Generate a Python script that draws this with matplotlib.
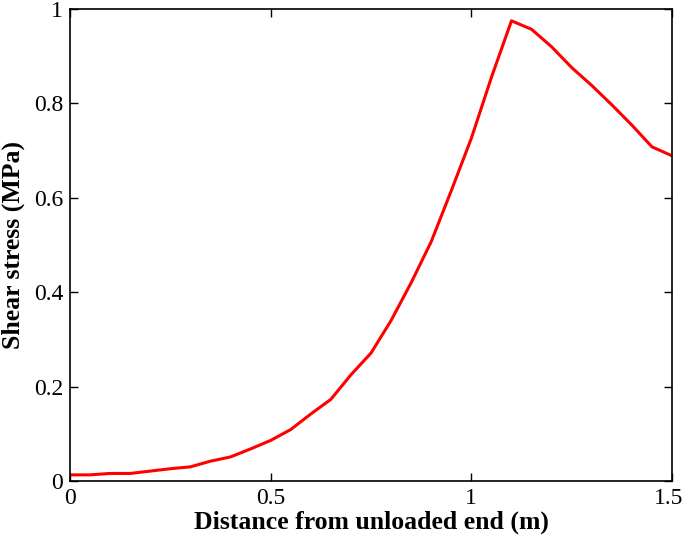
import matplotlib
matplotlib.use("Agg")
import matplotlib.pyplot as plt
import matplotlib.transforms as mtransforms

# distance from unloaded end (m) and shear stress (MPa)
distance = [0.0, 0.05, 0.1, 0.15, 0.2, 0.25, 0.3, 0.35, 0.4, 0.45, 0.5, 0.55,
            0.6, 0.65, 0.7, 0.75, 0.8, 0.85, 0.9, 0.95, 1.0, 1.05, 1.1, 1.15,
            1.2, 1.25, 1.3, 1.35, 1.4, 1.45, 1.5]
shear = [0.013, 0.013, 0.016, 0.016, 0.021, 0.026, 0.030, 0.042, 0.051, 0.068,
         0.086, 0.109, 0.142, 0.173, 0.225, 0.271, 0.340, 0.420, 0.507, 0.615,
         0.726, 0.855, 0.975, 0.957, 0.920, 0.876, 0.838, 0.797, 0.754, 0.708,
         0.689]
xticks = [0, 0.5, 1, 1.5]
xticklabels = ['0', '0.5', '1', '1.5']
yticks = [0, 0.2, 0.4, 0.6, 0.8, 1]
yticklabels = ['0', '0.2', '0.4', '0.6', '0.8', '1']

plt.rcParams['font.family'] = ['Liberation Serif', 'DejaVu Serif']

fig = plt.figure(figsize=(6.85, 5.41), dpi=100)
ax = fig.add_axes([70 / 685, 1 - 481 / 541, 602 / 685, 472 / 541])
ax.plot(distance, shear, color='#ff0000', linewidth=2.2)

ax.set_xlim(0, 1.5)
ax.set_ylim(0, 1)
ax.set_xticks(xticks)
ax.set_xticklabels(xticklabels)
ax.set_yticks(yticks)
ax.set_yticklabels(yticklabels)
ax.tick_params(direction='in', top=True, right=True, length=6, width=1,
               labelsize=17, pad=5)
for s in ax.spines.values():
    s.set_linewidth(1.2)

# keep the last x tick label inside the figure
last = ax.get_xticklabels()[-1]
last.set_transform(last.get_transform() +
                   mtransforms.ScaledTranslation(-3 / 100, 0, fig.dpi_scale_trans))

ax.set_xlabel('Distance from unloaded end (m)', fontsize=18.5, fontweight='bold',
              labelpad=1)
ax.set_ylabel('Shear stress (MPa)', fontsize=18.5, fontweight='bold', labelpad=6)

fig.savefig('out.png', dpi=100)
